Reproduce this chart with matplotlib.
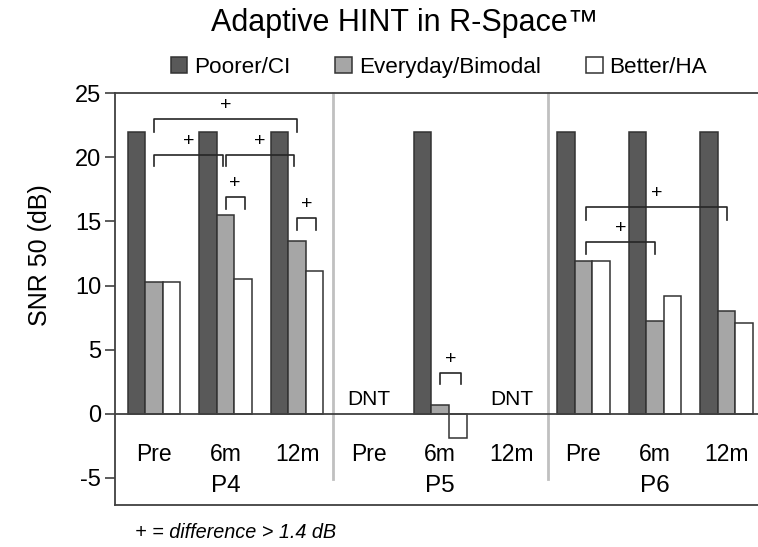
import matplotlib.pyplot as plt
from matplotlib.patches import Patch
import numpy as np

plt.rcParams['font.family'] = ['Liberation Sans', 'DejaVu Sans']

# --- data ---
patients = ["P4", "P5", "P6"]
visits = ["Pre", "6m", "12m"]
series = ["Poorer/CI", "Everyday/Bimodal", "Better/HA"]
poorer = [22, 22, 22, np.nan, 22, np.nan, 22, 22, 22]
everyday = [10.3, 15.5, 13.5, np.nan, 0.7, np.nan, 11.9, 7.25, 8.0]
better = [10.3, 10.5, 11.1, np.nan, -1.9, np.nan, 11.9, 9.2, 7.1]
dnt_slots = [3, 5]

# significance brackets: (x start, x end, bar top, leg bottom)
brackets = [
    (0.0, 2.0, 23.0, 22.0),
    (0.0, 0.96, 20.2, 19.3),
    (1.0, 1.96, 20.2, 19.3),
    (1.0, 1.27, 16.9, 16.0),
    (2.0, 2.27, 15.3, 14.35),
    (4.0, 4.29, 3.2, 2.3),
    (6.04, 8.0, 16.1, 15.1),
    (6.04, 7.0, 13.4, 12.5),
]

colors = ["#595959", "#a6a6a6", "#ffffff"]
edge = "#333333"
frame = "#404040"

fig = plt.figure(figsize=(7.58, 5.47), dpi=100)
ax = fig.add_axes([0.1517, 0.0768, 0.8483, 0.7526])

x = np.arange(len(poorer))
w = 0.245
for k, vals in enumerate([poorer, everyday, better]):
    ax.bar(x + (k - 1) * w, vals, width=w, color=colors[k], edgecolor=edge,
           linewidth=1.1, zorder=3)

ax.axhline(0, color=frame, lw=1.3, zorder=4)

# vertical separators between patients
for sep in [2.5, 5.5]:
    ax.plot([sep, sep], [25, -5.1], color="#c0c0c0", lw=2, zorder=1,
            clip_on=False)

for xs, xe, top, bot in brackets:
    ax.plot([xs, xs, xe, xe], [bot, top, top, bot], color="#262626", lw=1.2,
            zorder=5)
    ax.text((xs + xe) / 2, top + 1.05, "+", ha="center", va="center",
            fontsize=14, zorder=5)

for s in dnt_slots:
    ax.text(s, 1.1, "DNT", ha="center", va="center", fontsize=15)

# two-level category labels inside the frame
for i in range(len(poorer)):
    ax.text(i, -3.2, visits[i % 3], ha="center", va="center", fontsize=16.5)
for j, p in enumerate(patients):
    ax.text(3 * j + 1, -5.6, p, ha="center", va="center", fontsize=17.5)

ax.set_xlim(-0.545, 8.44)
ax.set_ylim(-7.12, 25)
ax.set_yticks([25, 20, 15, 10, 5, 0, -5])
ax.set_yticklabels(["25", "20", "15", "10", "5", "0", "-5"])
ax.tick_params(axis="y", labelsize=17, length=7, width=1.2, color=frame,
               pad=3)
ax.set_xticks([])
for side in ["left", "top", "bottom"]:
    ax.spines[side].set_color(frame)
    ax.spines[side].set_linewidth(1.3)
ax.spines["right"].set_visible(False)

fig.text(0.053, 1 - 255 / 547, "SNR 50 (dB)", rotation=90, ha="center",
         va="center", fontsize=18)
fig.text(0.534, 0.958, "Adaptive HINT in R-Space\u2122", ha="center",
         va="center", fontsize=22)

handles = [Patch(facecolor=c, edgecolor=edge, linewidth=1.1) for c in colors]
fig.legend(handles, series, loc="center", bbox_to_anchor=(0.579, 0.877),
           ncol=3, frameon=False, fontsize=16.2, handlelength=0.75,
           handleheight=0.75, handletextpad=0.3, columnspacing=2.0)

fig.text(0.178, 0.027, "+ = difference > 1.4 dB", style="italic",
         ha="left", va="center", fontsize=14.3)

fig.savefig("out.png", dpi=100)
